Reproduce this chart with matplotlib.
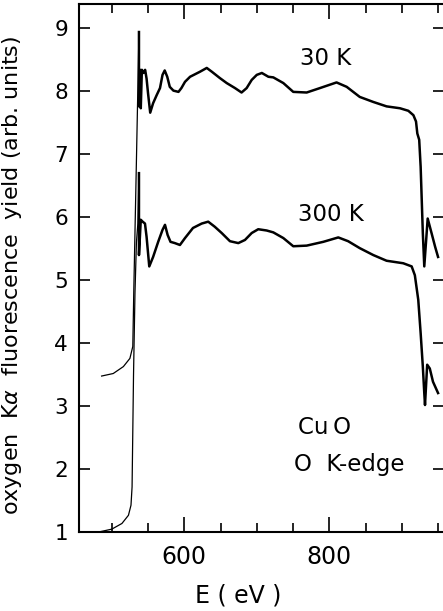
import matplotlib
matplotlib.use("Agg")
from matplotlib import pyplot as plt
from matplotlib.ticker import MultipleLocator

# 30 K spectrum (energy in eV, yield in arb. units)
e_30k = [486, 502, 516, 525, 529, 530.4, 534, 537.5, 537.5, 539, 540, 541.5,
         543.5, 546, 548, 550, 553, 557, 562, 566.5, 570, 573, 576.5, 580,
         585, 592, 596, 601, 608, 621.7, 631, 638, 649, 658.5, 670, 679, 686,
         693, 700, 707, 716, 722.8, 736.6, 750.3, 768.8, 787, 810, 824, 842,
         860.7, 879, 897.5, 909, 916, 919.6, 921.4, 924, 926, 929, 931, 935.7,
         941, 946, 950]
y_30k = [3.48, 3.52, 3.63, 3.76, 3.95, 4.85, 6.9, 8.94, 7.76, 8.34, 7.73, 8.34,
         8.29, 8.34, 8.2, 7.97, 7.66, 7.81, 7.94, 8.05, 8.26, 8.33, 8.23, 8.07,
         8.01, 7.99, 8.05, 8.15, 8.23, 8.31, 8.37, 8.31, 8.21, 8.13, 8.05, 7.98,
         8.05, 8.18, 8.26, 8.29, 8.23, 8.22, 8.13, 7.99, 7.98, 8.05, 8.14, 8.07,
         7.91, 7.83, 7.76, 7.73, 7.69, 7.62, 7.52, 7.33, 7.23, 6.80, 5.75, 5.22,
         5.98, 5.75, 5.53, 5.37]

# 300 K spectrum
e_300k = [455, 480, 500, 514, 523, 526.5, 528, 530, 532, 534, 536, 537.5, 537.5,
          540, 542.6, 545.8, 548, 551.7, 557, 564, 570, 573.4, 577, 581, 587,
          594, 601, 612, 624, 633, 642, 651.6, 663, 674.5, 683.7, 693, 702,
          713.6, 722.8, 736.6, 750.3, 768.8, 791.7, 812.4, 826, 842, 860.7, 879,
          902, 913.6, 918, 922.7, 926, 929, 931, 932, 935, 938.6, 943, 950]
y_300k = [1.0, 1.0, 1.05, 1.14, 1.27, 1.43, 1.72, 3.5, 4.8, 5.6, 5.9, 6.70, 5.40,
          5.96, 5.93, 5.90, 5.69, 5.22, 5.37, 5.61, 5.80, 5.88, 5.72, 5.61, 5.59,
          5.56, 5.67, 5.83, 5.90, 5.93, 5.85, 5.75, 5.62, 5.59, 5.64, 5.75, 5.81,
          5.79, 5.76, 5.67, 5.54, 5.55, 5.61, 5.68, 5.62, 5.51, 5.40, 5.31,
          5.27, 5.22, 5.08, 4.69, 4.16, 3.63, 3.21, 3.02, 3.66, 3.60, 3.39, 3.21]

labels = ["30 K", "300 K"]

fig = plt.figure(figsize=(4.43, 6.11), dpi=100)
ax = fig.add_axes([79 / 443, 78.7 / 611, 365 / 443, 528 / 611])

for e, y in [(e_30k, y_30k), (e_300k, y_300k)]:
    k = y.index(max(y))  # edge drawn thin, spectrum thick
    ax.plot(e[:k + 1], y[:k + 1], color="black", lw=0.9)
    ax.plot(e[k:], y[k:], color="black", lw=1.8, solid_joinstyle="round")

ax.set_xlim(454.8, 958.2)
ax.set_ylim(1, 9.38)

ax.xaxis.set_major_locator(MultipleLocator(200))
ax.xaxis.set_minor_locator(MultipleLocator(50))
ax.yaxis.set_major_locator(MultipleLocator(1))

ax.tick_params(axis="x", which="major", direction="in", top=True, length=11,
               width=1.2, labelsize=17, pad=9)
ax.tick_params(axis="x", which="minor", direction="in", top=True, length=6.5,
               width=1.2)
ax.tick_params(axis="y", direction="in", right=True, length=8, width=1.2,
               labelsize=15.5, pad=8)
for s in ax.spines.values():
    s.set_linewidth(1.5)
ax.spines["right"].set_visible(False)

ax.set_xlabel("E ( eV )", fontsize=17)
ax.xaxis.set_label_coords(0.436, -0.097)
ax.set_ylabel("oxygen  K$\\alpha$  fluorescence  yield (arb. units)", fontsize=16)
ax.yaxis.set_label_coords(-0.15, 0.487)

ax.text(760, 8.52, labels[0], fontsize=16.5, va="center")
ax.text(757, 6.04, labels[1], fontsize=16.5, va="center")
ax.text(757, 2.66, "Cu\u2009O", fontsize=16.5, va="center")
ax.text(751, 2.08, "O  K-edge", fontsize=16.5, va="center")

plt.savefig("out.png", dpi=100)
